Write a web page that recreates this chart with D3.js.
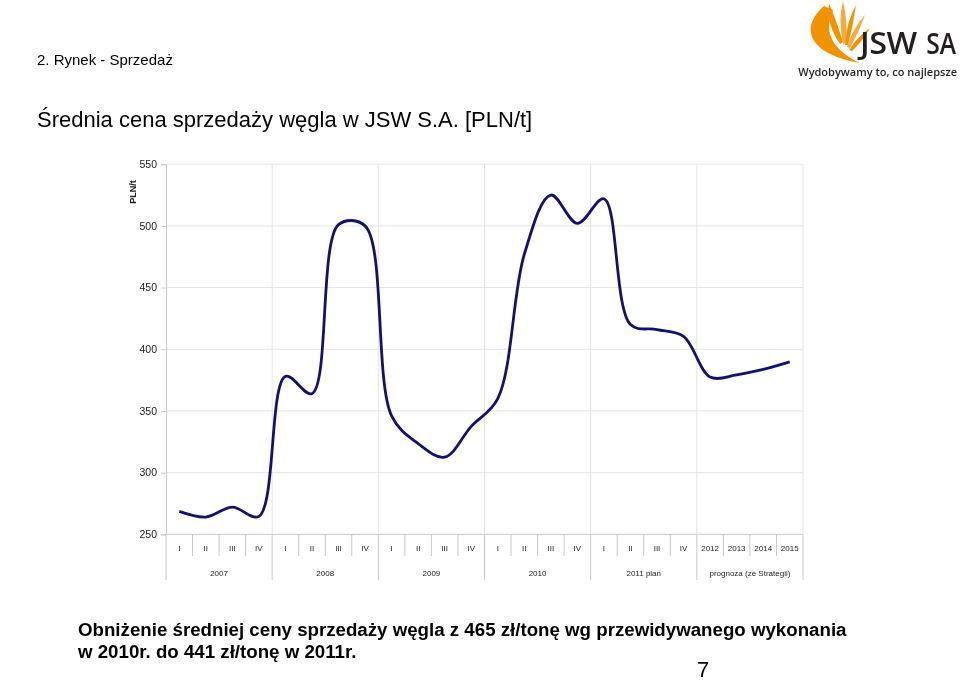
<!DOCTYPE html>
<html>
<head>
<meta charset="utf-8">
<script src="https://cdn.jsdelivr.net/npm/d3@7"></script>
<style>
  html, body { margin: 0; padding: 0; background: #fff; }
  svg { display: block; will-change: transform; }
</style>
</head>
<body>
<svg id="chart" width="960" height="681"></svg>
<script>
// ---- data ----
const quarterLabels = ["I","II","III","IV","I","II","III","IV","I","II","III","IV","I","II","III","IV","I","II","III","IV","2012","2013","2014","2015"];
const groupLabels = ["2007","2008","2009","2010","2011 plan","prognoza (ze Strategii)"];
const groupSpans = [4,4,4,4,4,4];
const prices = [268.6, 264, 272, 264.5, 378, 364, 501, 500, 346, 323.5, 312.5, 337.5, 360, 477, 525, 502, 522, 420, 416, 410.5, 377.5, 379.2, 383.6, 389.7];
const yTicks = [250, 300, 350, 400, 450, 500, 550];

(function () {
const svg = d3.select("#chart");
const FONT = "'Liberation Sans', Arial, sans-serif";
const LOGOFONT = "'Open Sans', 'Noto Sans', sans-serif";

// ---- header ----
svg.append("text").attr("x", 37).attr("y", 65)
  .attr("font-family", FONT).attr("font-size", 15).attr("fill", "#000")
  .text("2. Rynek - Sprzedaż");

svg.append("text").attr("x", 37).attr("y", 127)
  .attr("font-family", FONT).attr("font-size", 22).attr("fill", "#000")
  .text("Średnia cena sprzedaży węgla w JSW S.A. [PLN/t]");

// ---- logo ----
const logo = svg.append("g");
logo.append("path")
  .attr("d", "M824,6 C801,26 805,53 860,63 C835,51 822,34 833,10 Z")
  .attr("fill", "#f39200");
const leaves = [
  "M840,44 Q826,24 829,3 Q837,22 843,42 Z",
  "M843,44 Q838,20 843,1 Q848,22 846,43 Z",
  "M845,45 Q847,20 856,5 Q853,26 848,45 Z",
  "M847,47 Q853,28 865,15 Q859,32 850,48 Z",
  "M849,50 Q858,36 870,28 Q862,42 852,51 Z"
];
logo.selectAll("path.leaf").data(leaves).join("path")
  .attr("class", "leaf").attr("d", d => d)
  .attr("fill", (d, i) => i % 2 ? "#f7a941" : "#f39200");
logo.append("text").attr("transform", "translate(860,54) scale(1.08,1)")
  .attr("font-family", LOGOFONT).attr("font-weight", 600)
  .attr("font-size", 30).attr("letter-spacing", -0.5)
  .attr("fill", "#231f20").text("JSW");
logo.append("text").attr("transform", "translate(956,54) scale(0.85,1)")
  .attr("text-anchor", "end")
  .attr("font-family", LOGOFONT).attr("font-weight", 600)
  .attr("font-size", 29)
  .attr("fill", "#231f20").text("SA");
logo.append("text").attr("x", 957).attr("y", 76).attr("text-anchor", "end")
  .attr("font-family", LOGOFONT).attr("font-weight", 600)
  .attr("font-size", 11).attr("fill", "#231f20").text("Wydobywamy to, co najlepsze");

// ---- chart ----
const pLeft = 166, pRight = 803, pTop = 164.2, pBottom = 534.3;
const x = d3.scaleBand().domain(d3.range(prices.length)).range([pLeft, pRight]).padding(0);
const y = d3.scaleLinear().domain([250, 550]).range([pBottom, pTop]);

const g = svg.append("g");

g.selectAll("line.hgrid").data(yTicks.filter(t => t > 250)).join("line")
  .attr("class", "hgrid")
  .attr("x1", pLeft).attr("x2", pRight)
  .attr("y1", d => y(d)).attr("y2", d => y(d))
  .attr("stroke", "#e4e4e4").attr("stroke-width", 1);

const groupStarts = [];
let acc = 0;
groupSpans.forEach(s => { groupStarts.push(acc); acc += s; });
const boundaryIdx = groupStarts.slice(1);

g.selectAll("line.vgrid").data(boundaryIdx).join("line")
  .attr("class", "vgrid")
  .attr("x1", d => x(d)).attr("x2", d => x(d))
  .attr("y1", pTop).attr("y2", pBottom)
  .attr("stroke", "#e4e4e4").attr("stroke-width", 1);
g.append("line").attr("x1", pRight).attr("x2", pRight).attr("y1", pTop).attr("y2", pBottom)
  .attr("stroke", "#e4e4e4");

const yAxis = d3.axisLeft(y).tickValues(yTicks).tickSize(5).tickPadding(4);
const ya = g.append("g").attr("transform", `translate(${pLeft},0)`).call(yAxis);
ya.select(".domain").attr("stroke", "#c8c8c8");
ya.selectAll(".tick line").attr("stroke", "#c8c8c8");
ya.selectAll(".tick text").attr("font-family", FONT).attr("font-size", 10.5).attr("fill", "#222");

svg.append("text")
  .attr("transform", "translate(136,192) rotate(-90)")
  .attr("text-anchor", "middle")
  .attr("font-family", FONT).attr("font-size", 9).attr("font-weight", "bold").attr("fill", "#222")
  .text("PLN/t");

g.append("line").attr("x1", pLeft).attr("x2", pRight).attr("y1", pBottom).attr("y2", pBottom)
  .attr("stroke", "#c8c8c8");
const catBounds = d3.range(prices.length + 1);
g.selectAll("line.ctick").data(catBounds).join("line")
  .attr("class", "ctick")
  .attr("x1", d => d === prices.length ? pRight : x(d))
  .attr("x2", d => d === prices.length ? pRight : x(d))
  .attr("y1", pBottom)
  .attr("y2", d => (d % 4 === 0) ? 580 : 556)
  .attr("stroke", "#c8c8c8");
g.selectAll("text.qlab").data(quarterLabels).join("text")
  .attr("class", "qlab")
  .attr("x", (d, i) => x(i) + x.bandwidth() / 2)
  .attr("y", 551)
  .attr("text-anchor", "middle")
  .attr("font-family", FONT).attr("font-size", 8).attr("fill", "#222")
  .text(d => d);
g.selectAll("text.glab").data(groupLabels).join("text")
  .attr("class", "glab")
  .attr("x", (d, i) => {
    const s = groupStarts[i], e = s + groupSpans[i];
    const xe = e >= prices.length ? pRight : x(e);
    return (x(s) + xe) / 2;
  })
  .attr("y", 576)
  .attr("text-anchor", "middle")
  .attr("font-family", FONT).attr("font-size", 8).attr("fill", "#222")
  .text(d => d);

const line = d3.line()
  .x((d, i) => x(i) + x.bandwidth() / 2)
  .y(d => y(d))
  .curve(d3.curveCatmullRom.alpha(0.5));
g.append("path").datum(prices)
  .attr("d", line)
  .attr("fill", "none")
  .attr("stroke", "#12126e")
  .attr("stroke-width", 2.8)
  .attr("stroke-linejoin", "round");

// ---- footer ----
svg.append("text").attr("x", 78).attr("y", 636)
  .attr("font-family", FONT).attr("font-size", 18.7).attr("font-weight", "bold").attr("fill", "#000")
  .text("Obniżenie średniej ceny sprzedaży węgla z 465 zł/tonę wg przewidywanego wykonania");
svg.append("text").attr("x", 78).attr("y", 658)
  .attr("font-family", FONT).attr("font-size", 18.7).attr("font-weight", "bold").attr("fill", "#000")
  .text("w 2010r. do 441 zł/tonę w 2011r.");
svg.append("text").attr("x", 697).attr("y", 677)
  .attr("font-family", FONT).attr("font-size", 22).attr("fill", "#000")
  .text("7");
})();
</script>
</body>
</html>
